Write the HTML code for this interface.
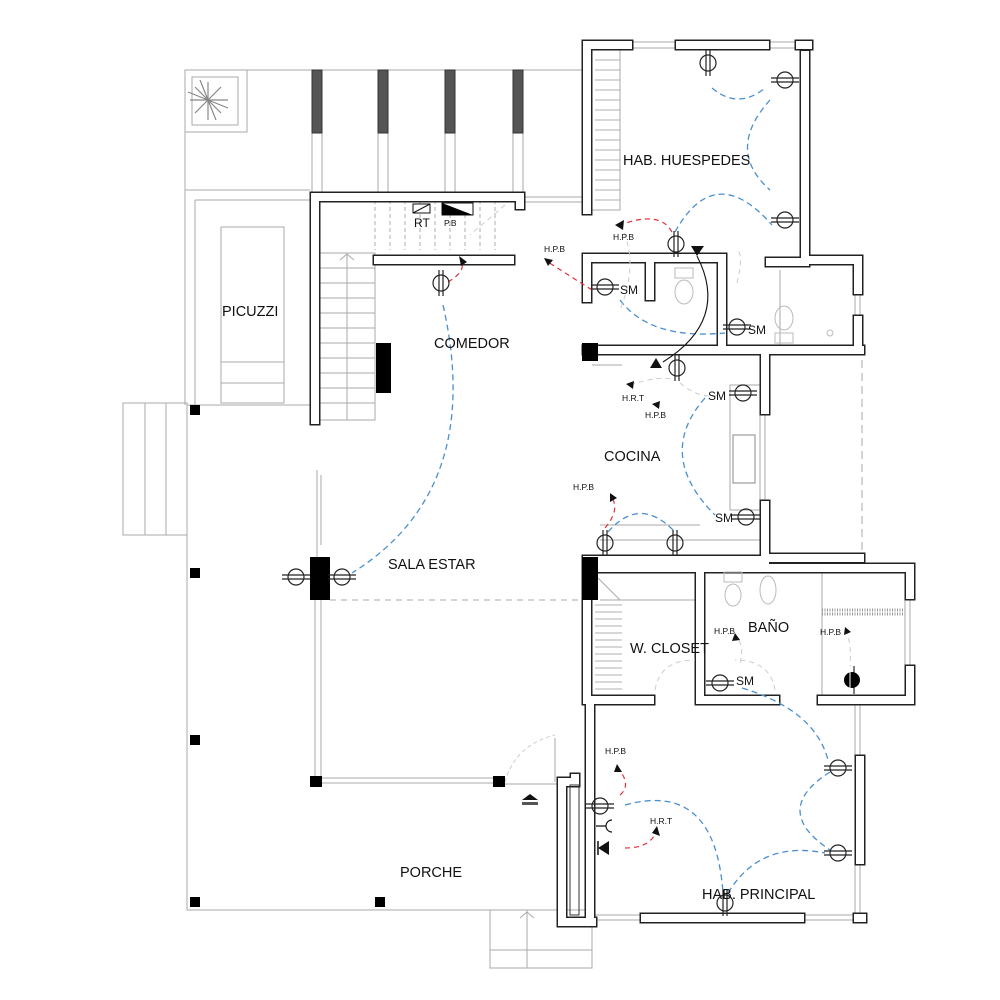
<!DOCTYPE html>
<html><head><meta charset="utf-8"><style>
html,body{margin:0;padding:0;background:#fff}
svg{display:block}
text{font-family:"Liberation Sans",sans-serif;fill:#111}
</style></head><body>
<svg width="1000" height="1000" viewBox="0 0 1000 1000" xmlns="http://www.w3.org/2000/svg">
<defs>
<g id="sv"><circle cx="0" cy="0" r="8" fill="none" stroke="#222" stroke-width="1.2"/><line x1="-2" y1="-13" x2="-2" y2="13" stroke="#222" stroke-width="1.2"/><line x1="2" y1="-13" x2="2" y2="13" stroke="#222" stroke-width="1.2"/></g>
<g id="sh"><circle cx="0" cy="0" r="8" fill="none" stroke="#222" stroke-width="1.2"/><line x1="-14" y1="-2" x2="14" y2="-2" stroke="#222" stroke-width="1.2"/><line x1="-14" y1="2" x2="14" y2="2" stroke="#222" stroke-width="1.2"/></g>
</defs>

<g fill="none" stroke="#aaa" stroke-width="1">
<path d="M185 70 H582 M185 70 V405 M185 190 H310 M195 200 H310 M195 200 V405"/>
<rect x="185" y="70" width="62" height="62"/>
<rect x="192" y="77" width="46" height="48"/>
<path d="M322 133 V192 M312 133 V192 M378 133 V192 M388 133 V192 M445 133 V192 M455 133 V192 M513 133 V192 M523 133 V192"/>
<rect x="221" y="227" width="63" height="176"/>
<path d="M221 362 H284 M221 383 H284"/>
<path d="M187 405 H310 M187 405 V910 H560"/>
<rect x="123" y="403" width="64" height="132"/>
<path d="M145 403 V535 M166 403 V535"/>
<rect x="490" y="910" width="102" height="58"/>
<path d="M527 910 V968 M490 950 H592 M520 918 L527 912 L534 918"/>
<rect x="320" y="253" width="55" height="167"/>
<path d="M347 253 V420 M320 268 H375 M320 283 H375 M320 298 H375 M320 313 H375 M320 328 H375 M320 343 H375 M320 358 H375 M320 373 H375 M320 388 H375 M320 403 H375 M340 260 L347 254 L354 260"/>
<path d="M525 197 H582 M525 202 H582"/>
<path d="M317 470 V560 M321 475 V545"/>
<path d="M315 600 V780 M321 600 V780 M322 778 H493 M322 783 H493"/>
<path d="M505 784 H560 M555 738 V782"/>
<path d="M505 782 Q515 745 555 735" stroke-dasharray="4,3" stroke="#ccc"/>
<rect x="592" y="50" width="28" height="160"/>
<path d="M630 42 H680 M630 48 H680 M765 42 H800 M765 48 H800 M803 50 V95 M808 50 V95"/>
<path d="M855 290 V320 M860 290 V320 M760 410 V505 M765 410 V505"/>
<path d="M905 595 V670 M910 595 V670"/>
<path d="M855 700 V760 M860 700 V760 M855 860 V915 M860 860 V915"/>
<path d="M592 915 H645 M592 920 H645 M800 915 H855 M800 920 H855"/>
<path d="M862 360 V560" stroke-dasharray="8,5"/>
<rect x="730" y="385" width="30" height="125"/>
<rect x="733" y="435" width="22" height="48" stroke="#888"/>
<path d="M722 270 V345 M780 270 V345 M822 570 V695 M600 540 H765 M600 525 H700"/>
<path d="M592 365 L622 365 M590 570 L620 600 M600 600 H700"/>
</g>
<g stroke="#999" stroke-width="0.8">
<path d="M595 60 H620 M595 70 H620 M595 80 H620 M595 90 H620 M595 100 H620 M595 110 H620 M595 120 H620 M595 130 H620 M595 140 H620 M595 150 H620 M595 160 H620 M595 170 H620 M595 180 H620 M595 190 H620 M595 200 H620"/>
<path d="M595 605 H622 M595 612 H622 M595 619 H622 M595 626 H622 M595 633 H622 M595 640 H622 M595 647 H622 M595 654 H622 M595 661 H622 M595 668 H622 M595 675 H622 M595 682 H622 M595 689 H622"/>
<path d="M822 610 H905 M822 614 H905" stroke-width="3" stroke-dasharray="1,1.5"/>
<path d="M375 200 V250 M390 200 V250 M405 200 V250 M420 200 V250 M435 200 V250 M450 200 V250 M465 200 V250 M480 200 V250 M495 200 V250" stroke-dasharray="4,3"/>
</g>
<g stroke="#888" stroke-width="1.2">
<path d="M208 82 L208 120 M190 100 L228 100 M195 87 L221 113 M195 113 L221 87 M200 80 L216 120 M188 92 L228 108"/>
</g>
<g fill="#555" stroke="#333">
<rect x="312" y="70" width="10" height="63"/><rect x="378" y="70" width="10" height="63"/><rect x="445" y="70" width="10" height="63"/><rect x="513" y="70" width="10" height="63"/>
</g>

<g fill="none" stroke-linejoin="miter" stroke-linecap="square">
<path d="M315 420 V197 H520 V205
M587 210 V45 H628 M680 45 H765 M800 45 H808
M805 55 V260 H858 V290 M858 320 V345
M587 258 H722 V345 M587 258 V298 M650 263 V296 M770 262 H805
M587 350 H860 M765 350 V410 M765 505 V558 H860
M587 560 H765 M587 568 H910 V595 M910 670 V700 H822 M775 700 H700 V568
M587 568 V700 H650
M590 700 V918 M860 760 V860 M645 918 H800 M858 918 H862
M562 782 V922 H592 M562 782 H575 V778
M378 260 H510" stroke="#222" stroke-width="11"/>
<path d="M315 420 V197 H520 V205
M587 210 V45 H628 M680 45 H765 M800 45 H808
M805 55 V260 H858 V290 M858 320 V345
M587 258 H722 V345 M587 258 V298 M650 263 V296 M770 262 H805
M587 350 H860 M765 350 V410 M765 505 V558 H860
M587 560 H765 M587 568 H910 V595 M910 670 V700 H822 M775 700 H700 V568
M587 568 V700 H650
M590 700 V918 M860 760 V860 M645 918 H800 M858 918 H862
M562 782 V922 H592 M562 782 H575 V778
M378 260 H510" stroke="#fff" stroke-width="8"/>
</g>
<rect x="570" y="785" width="9" height="130" fill="none" stroke="#333"/>

<g fill="#000">
<rect x="190" y="405" width="10" height="10"/><rect x="190" y="568" width="10" height="10"/><rect x="190" y="735" width="10" height="10"/><rect x="190" y="897" width="10" height="10"/><rect x="375" y="897" width="10" height="10"/>
<rect x="310" y="776" width="12" height="11"/><rect x="493" y="776" width="12" height="11"/>
<rect x="376" y="343" width="15" height="50"/>
<rect x="582" y="343" width="16" height="18"/>
<rect x="310" y="557" width="20" height="43"/>
<rect x="582" y="557" width="16" height="43"/>
</g>
<line x1="330" y1="600" x2="582" y2="600" stroke="#aaa" stroke-dasharray="6,5"/>

<g fill="none" stroke="#bbb">
<rect x="675" y="268" width="18" height="10"/><ellipse cx="684" cy="292" rx="9" ry="12"/>
<rect x="775" y="333" width="18" height="10"/><ellipse cx="784" cy="318" rx="9" ry="12"/>
<rect x="724" y="572" width="18" height="10"/><ellipse cx="733" cy="595" rx="8" ry="11"/>
<ellipse cx="768" cy="590" rx="8" ry="14"/>
<circle cx="830" cy="333" r="3"/>
</g>

<g fill="none" stroke="#4a8fd0" stroke-width="1.3" stroke-dasharray="6,4">
<path d="M712 88 Q738 110 765 88"/>
<path d="M770 100 Q725 150 770 190"/>
<path d="M675 232 Q715 160 772 225"/>
<path d="M620 300 Q650 340 725 333"/>
<path d="M443 305 Q485 490 352 573"/>
<path d="M705 398 Q655 455 715 515"/>
<path d="M608 532 Q640 495 675 532"/>
<path d="M742 688 Q815 710 828 760"/>
<path d="M830 772 Q770 810 830 850"/>
<path d="M625 805 Q715 780 723 893"/>
<path d="M728 893 Q760 840 825 853"/>
</g>
<g fill="none" stroke="#e0303a" stroke-width="1.2" stroke-dasharray="5,4">
<path d="M448 282 Q465 272 462 262"/>
<path d="M672 232 Q660 210 620 225"/>
<path d="M592 290 L548 262"/>
<path d="M605 528 Q620 510 612 498"/>
<path d="M620 795 Q632 785 618 768"/>
<path d="M625 848 Q650 848 656 832"/>
</g>
<g fill="none" stroke="#ccc" stroke-width="1" stroke-dasharray="5,4">
<path d="M737 283 Q745 250 735 250"/><path d="M620 225 Q640 260 620 310"/>
<path d="M630 385 Q660 375 675 380 M680 383 Q700 400 720 395"/>
<path d="M655 690 Q660 660 695 660"/><path d="M775 690 Q770 660 735 660"/>
<path d="M740 663 Q745 645 735 635"/><path d="M850 670 Q852 640 845 630"/>
<path d="M505 205 L470 235"/>
</g>
<g fill="#111">
<path d="M459 256 L467 262 L461 266 Z"/>
<path d="M615 225 L624 220 L623 230 Z"/>
<path d="M544 258 L553 260 L548 266 Z"/>
<path d="M610 493 L617 498 L610 502 Z"/>
<path d="M617 764 L622 772 L614 772 Z"/>
<path d="M657 826 L660 836 L652 833 Z"/>
<path d="M735 633 L740 640 L732 641 Z"/>
<path d="M845 627 L851 632 L844 635 Z"/>
<path d="M626 384 L634 381 L633 389 Z"/>
<path d="M652 404 L660 401 L659 409 Z"/>
<path d="M691 246 H704 L697 256 Z"/>
<path d="M650 368 H662 L656 358 Z"/>
<path d="M598 848 L609 841 V855 Z"/>
<path d="M522 800 L530 794 L538 800 Z"/>
</g>
<line x1="598" y1="841" x2="598" y2="855" stroke="#111" stroke-width="1.5"/>
<rect x="522" y="802" width="16" height="3" fill="#555"/>
<path d="M697 256 Q730 320 663 362" fill="none" stroke="#111" stroke-width="1.1"/>
<path d="M596 826 H606 M612 820 A6 6 0 0 0 612 832" fill="none" stroke="#111" stroke-width="1.2"/>
<rect x="413" y="204" width="17" height="9" fill="#fff" stroke="#111"/><line x1="413" y1="213" x2="430" y2="204" stroke="#111"/>
<rect x="442" y="203" width="31" height="12" fill="#fff" stroke="#111"/><path d="M442 203 L473 215 H442 Z" fill="#000"/>

<use href="#sv" x="708" y="63"/><use href="#sv" x="441" y="283"/><use href="#sv" x="676" y="244"/><use href="#sv" x="677" y="368"/><use href="#sv" x="605" y="543"/><use href="#sv" x="675" y="543"/><use href="#sv" x="725" y="903"/>
<use href="#sh" x="785" y="80"/><use href="#sh" x="785" y="220"/><use href="#sh" x="605" y="287"/><use href="#sh" x="737" y="327"/><use href="#sh" x="743" y="393"/><use href="#sh" x="746" y="517"/><use href="#sh" x="296" y="577"/><use href="#sh" x="342" y="577"/><use href="#sh" x="720" y="683"/><use href="#sh" x="838" y="768"/><use href="#sh" x="838" y="853"/><use href="#sh" x="600" y="806"/>
<circle cx="852" cy="680" r="8" fill="#000"/><line x1="850" y1="666" x2="850" y2="694" stroke="#fff" stroke-width="1"/><line x1="854" y1="666" x2="854" y2="694" stroke="#000" stroke-width="1"/>

<g font-size="14.5">
<text x="623" y="165">HAB. HUESPEDES</text>
<text x="222" y="316">PICUZZI</text>
<text x="434" y="348">COMEDOR</text>
<text x="604" y="461">COCINA</text>
<text x="388" y="569">SALA ESTAR</text>
<text x="630" y="653">W. CLOSET</text>
<text x="748" y="632">BAÑO</text>
<text x="400" y="877">PORCHE</text>
<text x="702" y="899">HAB. PRINCIPAL</text>
</g>
<g font-size="12">
<text x="620" y="294">SM</text><text x="748" y="334">SM</text><text x="708" y="400">SM</text><text x="715" y="522">SM</text><text x="736" y="685">SM</text>
<text x="414" y="227">RT</text>
</g>
<g font-size="8.5">
<text x="444" y="226">P.B</text>
<text x="613" y="240">H.P.B</text><text x="544" y="252">H.P.B</text>
<text x="622" y="401">H.R.T</text><text x="645" y="418">H.P.B</text>
<text x="573" y="490">H.P.B</text>
<text x="714" y="634">H.P.B</text><text x="820" y="635">H.P.B</text>
<text x="605" y="754">H.P.B</text><text x="650" y="824">H.R.T</text>
</g>
</svg>
</body></html>
